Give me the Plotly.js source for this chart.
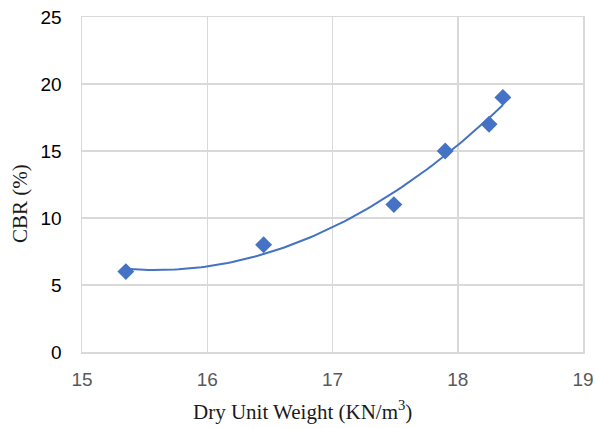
<!DOCTYPE html>
<html>
<head>
<meta charset="utf-8">
<script src="https://cdn.plot.ly/plotly-3.0.1.min.js"></script>
<style>
  html, body { margin: 0; padding: 0; background: #fff; }
  #chart { width: 595px; height: 428px; }
</style>
</head>
<body>
<div id="chart"></div>
<script>
// Measured CBR against dry unit weight
const dryUnitWeight = [15.35, 16.45, 17.49, 17.90, 18.25, 18.36];
const cbrPercent = [6, 8, 11, 15, 17, 19];

const xTicks = [15, 16, 17, 18, 19];
const yTicks = [0, 5, 10, 15, 20, 25];

// Second-order polynomial trendline (least squares) over the data range
function quadFit(xs, ys) {
  const n = xs.length;
  let s = [0, 0, 0, 0, 0], t = [0, 0, 0];
  for (let i = 0; i < n; i++) {
    let p = 1;
    for (let k = 0; k < 5; k++) { s[k] += p; if (k < 3) t[k] += p * ys[i]; p *= xs[i]; }
  }
  const A = [[s[0], s[1], s[2], t[0]], [s[1], s[2], s[3], t[1]], [s[2], s[3], s[4], t[2]]];
  for (let c = 0; c < 3; c++) {
    for (let r = c + 1; r < 3; r++) {
      const f = A[r][c] / A[c][c];
      for (let k = c; k < 4; k++) A[r][k] -= f * A[c][k];
    }
  }
  const coef = [0, 0, 0];
  for (let r = 2; r >= 0; r--) {
    let v = A[r][3];
    for (let k = r + 1; k < 3; k++) v -= A[r][k] * coef[k];
    coef[r] = v / A[r][r];
  }
  return coef;
}
const coef = quadFit(dryUnitWeight, cbrPercent);
const xMin = Math.min(...dryUnitWeight), xMax = Math.max(...dryUnitWeight);
const fitX = [], fitY = [];
for (let i = 0; i <= 100; i++) {
  const x = xMin + (xMax - xMin) * i / 100;
  fitX.push(x);
  fitY.push(coef[0] + coef[1] * x + coef[2] * x * x);
}

const blue = '#4472C4';
const grid = '#d9d9d9';

const data = [
  {
    x: fitX, y: fitY, type: 'scatter', mode: 'lines',
    line: { color: blue, width: 2 }, hoverinfo: 'skip', showlegend: false
  },
  {
    x: dryUnitWeight, y: cbrPercent, type: 'scatter', mode: 'markers',
    marker: { symbol: 'diamond', size: 13, color: blue }, showlegend: false
  }
];

const layout = {
  width: 595, height: 428,
  margin: { l: 82, r: 12, t: 17, b: 76 },
  paper_bgcolor: '#ffffff', plot_bgcolor: '#ffffff',
  font: { family: 'Liberation Sans, Arial, sans-serif', size: 19, color: '#000000' },
  xaxis: {
    range: [15, 19], tickvals: xTicks, ticktext: xTicks.map(String),
    showgrid: true, gridcolor: grid, gridwidth: 1.5,
    showline: true, linecolor: grid, linewidth: 1.5, mirror: true,
    zeroline: false, ticks: '', ticklabelstandoff: 10,
    tickfont: { family: 'Liberation Sans, Arial, sans-serif', size: 19, color: '#595959' }
  },
  yaxis: {
    range: [0, 25], tickvals: yTicks, ticktext: yTicks.map(String),
    showgrid: true, gridcolor: grid, gridwidth: 1.5,
    showline: true, linecolor: grid, linewidth: 1.5, mirror: true,
    zeroline: false, ticks: '', ticklabelstandoff: 15,
    tickfont: { family: 'Liberation Sans, Arial, sans-serif', size: 19, color: '#000000' }
  },
  annotations: [
    {
      text: 'Dry Unit Weight (KN/m<sup>3</sup>)',
      xref: 'paper', yref: 'paper', x: (302 - 82) / 501, y: (352 - 410) / 335,
      xanchor: 'center', yanchor: 'middle', showarrow: false,
      font: { family: 'Liberation Serif, Times New Roman, serif', size: 21, color: '#1a1a1a' }
    },
    {
      text: 'CBR (%)', textangle: -90,
      xref: 'paper', yref: 'paper', x: (20 - 82) / 501, y: (352 - 204) / 335,
      xanchor: 'center', yanchor: 'middle', showarrow: false,
      font: { family: 'Liberation Serif, Times New Roman, serif', size: 21, color: '#1a1a1a' }
    }
  ]
};

Plotly.newPlot('chart', data, layout, { staticPlot: true, displayModeBar: false });
</script>
</body>
</html>
